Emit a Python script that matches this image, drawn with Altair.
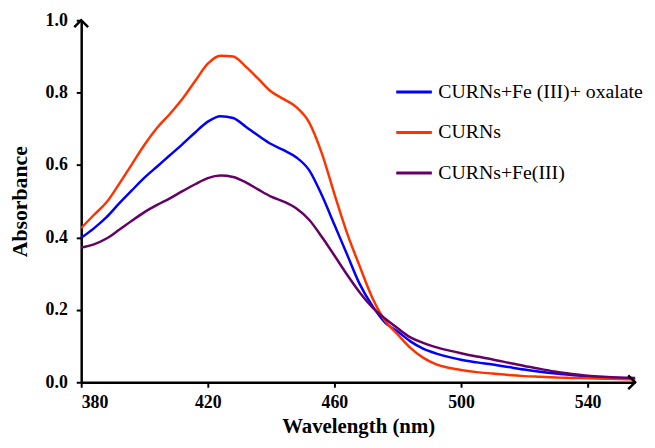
import altair as alt
import pandas as pd

wavelength = [380, 384, 388, 392, 396, 400, 404, 408, 412, 416, 420, 424, 428, 432, 436,
              440, 444, 448, 452, 456, 460, 464, 468, 472, 476, 480, 484, 488, 492, 496,
              500, 505, 510, 515, 520, 525, 530, 535, 540, 545, 550, 555]

curns = [0.426, 0.462, 0.497, 0.548, 0.602, 0.656, 0.703, 0.741, 0.783, 0.832, 0.880, 0.902,
         0.900, 0.872, 0.838, 0.803, 0.782, 0.760, 0.718, 0.633, 0.520, 0.412, 0.320, 0.233,
         0.170, 0.132, 0.095, 0.068, 0.050, 0.040, 0.034, 0.028, 0.024, 0.020, 0.017, 0.015,
         0.013, 0.012, 0.011, 0.010, 0.009, 0.008]

curns_fe_oxalate = [0.399, 0.425, 0.456, 0.494, 0.530, 0.565, 0.596, 0.627, 0.658, 0.690, 0.720,
                    0.735, 0.730, 0.706, 0.681, 0.658, 0.641, 0.621, 0.586, 0.517, 0.435, 0.353,
                    0.271, 0.211, 0.165, 0.140, 0.113, 0.093, 0.080, 0.070, 0.062, 0.055, 0.049,
                    0.042, 0.035, 0.029, 0.024, 0.020, 0.016, 0.013, 0.011, 0.010]

curns_fe = [0.372, 0.381, 0.397, 0.421, 0.446, 0.470, 0.490, 0.508, 0.528, 0.547, 0.564, 0.571,
            0.567, 0.552, 0.532, 0.513, 0.499, 0.480, 0.449, 0.402, 0.350, 0.297, 0.248, 0.207,
            0.176, 0.149, 0.124, 0.109, 0.097, 0.088, 0.080, 0.071, 0.063, 0.054, 0.045, 0.037,
            0.029, 0.023, 0.018, 0.015, 0.013, 0.012]

series_names = ["CURNs+Fe (III)+ oxalate", "CURNs", "CURNs+Fe(III)"]
series_colors = ["#0000FF", "#FF3300", "#660066"]
x_ticks = [380, 420, 460, 500, 540]
y_ticks = [0.0, 0.2, 0.4, 0.6, 0.8, 1.0]
x_domain = [380, 555]
y_domain = [0.0, 1.0]

rows = []
for name, vals in zip(series_names, [curns_fe_oxalate, curns, curns_fe]):
    for w, v in zip(wavelength, vals):
        rows.append({"Wavelength": w, "Absorbance": v, "Sample": name})
df = pd.DataFrame(rows)

FONT = "Liberation Serif, Times New Roman, serif"

x_scale = alt.Scale(domain=x_domain, nice=False, zero=False)
y_scale = alt.Scale(domain=y_domain, nice=False)

lines = alt.Chart(df).mark_line(strokeWidth=2.5, interpolate="monotone").encode(
    x=alt.X("Wavelength:Q", scale=x_scale, title="Wavelength (nm)",
            axis=alt.Axis(values=x_ticks, format="d", grid=False)),
    y=alt.Y("Absorbance:Q", scale=y_scale, title="Absorbance",
            axis=alt.Axis(values=y_ticks, format=".1f", grid=False)),
    color=alt.Color("Sample:N",
                    scale=alt.Scale(domain=series_names, range=series_colors),
                    sort=series_names,
                    legend=alt.Legend(title=None, orient="none", legendX=317, legendY=53,
                                      direction="vertical", symbolType="stroke",
                                      symbolSize=1296, symbolStrokeWidth=3,
                                      labelFont=FONT, labelFontSize=20, labelColor="black",
                                      labelLimit=320, labelOffset=5, rowPadding=11,
                                      padding=0)),
    order=alt.Order("Wavelength:Q"),
)

arrow_up = pd.DataFrame({"Wavelength": [x_domain[0]], "Absorbance": [y_domain[1]]})
arrow_right = pd.DataFrame({"Wavelength": [x_domain[1]], "Absorbance": [y_domain[0]]})

up = alt.Chart(arrow_up).mark_point(
    shape="M -1 1 L 0 0 L 1 1", filled=False, color="black", strokeWidth=2.5,
    size=196, opacity=1
).encode(x=alt.X("Wavelength:Q", scale=x_scale), y=alt.Y("Absorbance:Q", scale=y_scale))

right = alt.Chart(arrow_right).mark_point(
    shape="M -1 -1 L 0 0 L -1 1", filled=False, color="black", strokeWidth=2.5,
    size=196, opacity=1
).encode(x=alt.X("Wavelength:Q", scale=x_scale), y=alt.Y("Absorbance:Q", scale=y_scale))

chart = alt.layer(lines, up, right).properties(
    width=560, height=366,
    autosize=alt.AutoSizeParams(type="none"),
    padding={"left": 74, "top": 10, "right": 12, "bottom": 56},
).configure_view(stroke=None).configure_axis(
    labelFont=FONT, labelFontSize=18, labelFontWeight="bold", labelColor="black",
    titleFont=FONT, titleFontSize=22, titleFontWeight="bold", titleColor="black",
    domainColor="black", domainWidth=2.5, tickColor="black", tickWidth=2, tickSize=5,
).configure_axisY(labelPadding=9, titlePadding=14).configure_axisX(
    labelPadding=7, titlePadding=4, titleFontSize=21)

chart.save("out.html", embed_options={"renderer": "svg", "actions": False})
